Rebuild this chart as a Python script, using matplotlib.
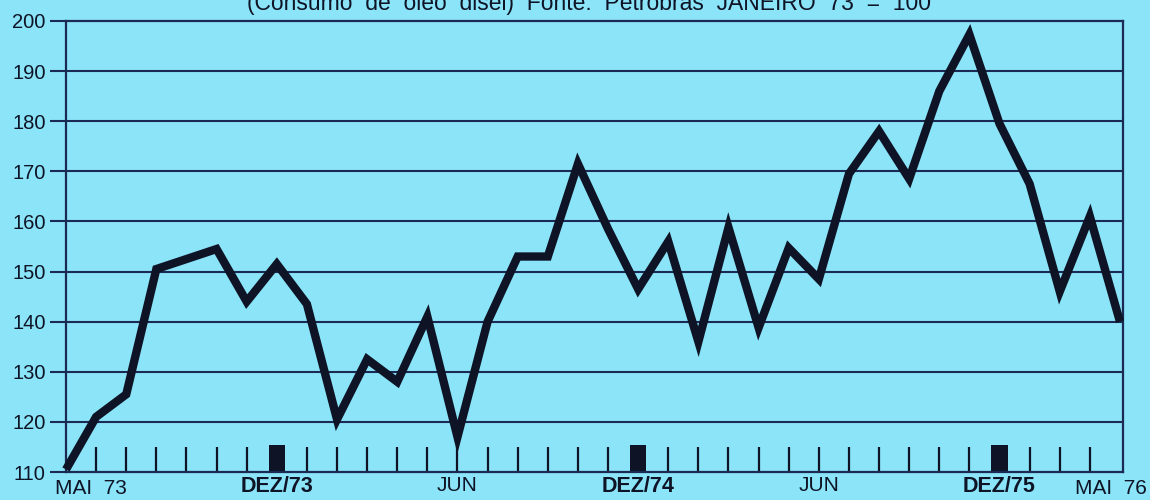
import numpy as np
import matplotlib
matplotlib.use('Agg')
import matplotlib.pyplot as plt
import matplotlib.transforms as mtransforms

# Índice mensal do consumo de óleo diesel, MAI/73 a ABR/76 (JANEIRO 73 = 100)
valores = [110.5, 121, 125.5, 150.5, 152.5, 154.5, 144, 151.5, 143.5, 120.5,
           132.5, 128, 141, 117, 140, 153, 153, 171.5, 158.5, 146.5,
           156, 136, 158.8, 138.8, 154.7, 148.5, 169.5, 178, 168.5, 186,
           197.3, 179.5, 167.5, 146, 161, 140]

meses_dez = [7, 19, 31]
meses_rotulo = [7, 13, 19, 25, 31]
rotulos_x = ['DEZ/73', 'JUN', 'DEZ/74', 'JUN', 'DEZ/75']
rotulo_inicio = 'MAI  73'
rotulo_fim = 'MAI  76'
escala_y = [110, 120, 130, 140, 150, 160, 170, 180, 190, 200]
titulo = '(Consumo  de  óleo  disel)  Fonte:  Petrobras  JANEIRO  73  =  100'

FUNDO = '#8be4f8'
AZUL = '#1b2a52'
PRETO = '#0e1426'
FONTE = ['Liberation Sans', 'DejaVu Sans']


def desenhar_grafico():
    """Desenha a curva do índice com as marcas mensais no rodapé."""
    plt.rcParams['font.family'] = FONTE
    fig = plt.figure(figsize=(11.5, 5), dpi=100, facecolor=FUNDO)
    ax = fig.add_axes([0.0574, 0.056, 0.9191, 0.902])
    ax.set_facecolor(FUNDO)

    meses = np.arange(len(valores))
    ax.set_xlim(0, 35.1)
    ax.set_ylim(escala_y[0], escala_y[-1])

    # linhas horizontais da escala
    for v in escala_y[1:-1]:
        ax.axhline(v, color=AZUL, lw=1.5, zorder=1)
    for lado in ax.spines.values():
        lado.set_color(AZUL)
        lado.set_linewidth(1.6)

    # marcas mensais e blocos de dezembro
    marcas = [m for m in range(1, 35) if m not in meses_dez]
    ax.vlines(marcas, escala_y[0], escala_y[0] + 5, color=PRETO, lw=1.6, zorder=2)
    ax.bar(meses_dez, 5.3, bottom=escala_y[0], width=0.55, color=PRETO, zorder=2)

    ax.plot(meses, valores, color=PRETO, lw=6, solid_joinstyle='miter',
            solid_capstyle='butt', zorder=3, clip_on=False)

    ax.set_yticks(escala_y)
    ax.set_yticklabels([str(v) for v in escala_y])
    ax.tick_params(axis='y', direction='out', length=11.5, width=1.5,
                   color=AZUL, pad=3, labelsize=14.5, labelcolor=PRETO)

    ax.set_xticks(meses_rotulo)
    ax.set_xticklabels(rotulos_x)
    ax.tick_params(axis='x', length=0, pad=3, labelsize=15, labelcolor=PRETO)
    for rot in ax.get_xticklabels():
        if rot.get_text().startswith('DEZ'):
            rot.set_fontweight('bold')
            rot.set_fontsize(15.5)

    trans = mtransforms.blended_transform_factory(ax.transData, ax.transAxes)
    ax.text(-0.37, -0.016, rotulo_inicio, transform=trans, ha='left', va='top',
            fontsize=15, color=PRETO)
    ax.text(34.7, -0.016, rotulo_fim, transform=trans, ha='center', va='top',
            fontsize=15, color=PRETO)

    fig.text(0.512, 0.98, titulo, ha='center', va='baseline', fontsize=16.5,
             color=PRETO)
    return fig


def main():
    fig = desenhar_grafico()
    fig.savefig('out.png', dpi=100, facecolor=FUNDO)


if __name__ == '__main__':
    main()
